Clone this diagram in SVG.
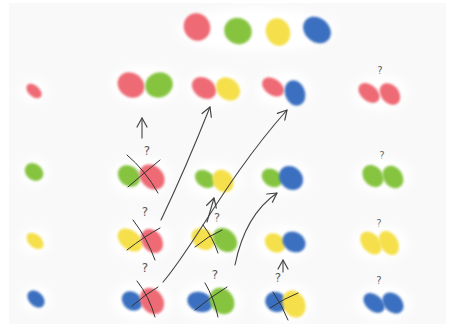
<svg xmlns="http://www.w3.org/2000/svg" width="453" height="331" viewBox="0 0 453 331">
<defs>
<filter id="soft" x="-30%" y="-30%" width="160%" height="160%"><feGaussianBlur stdDeviation="0.9"/></filter>
<filter id="halo" x="-50%" y="-50%" width="200%" height="200%"><feGaussianBlur stdDeviation="4"/></filter>
<marker id="ah" viewBox="0 0 12 12" refX="10" refY="6" markerWidth="12" markerHeight="12" markerUnits="userSpaceOnUse" orient="auto">
<path d="M1,1 L10,6 L1,11" fill="none" stroke="#444" stroke-width="1.2" stroke-linecap="round" stroke-linejoin="round"/>
</marker>
</defs>
<style>
.r{fill:#ee6a75}
.g{fill:#86c43f}
.y{fill:#f5e04b}
.b{fill:#3b6fc0}
.blob{filter:url(#soft)}
.h{fill:#ffffff;filter:url(#halo)}
.x{fill:none;stroke:#333;stroke-width:1;stroke-linecap:round}
.q{font-family:"DejaVu Sans",sans-serif;font-size:12px;fill:#555;text-anchor:middle}
.qs{font-family:"DejaVu Sans",sans-serif;font-size:10px;fill:#555;text-anchor:middle}
.c{fill:none;stroke:#444;stroke-width:1.1;stroke-linecap:round;marker-end:url(#ah)}
</style>
<rect width="453" height="331" fill="#ffffff"/>
<rect x="9" y="3" width="437" height="321" fill="#f9f9f9"/>

<g id="top">
<ellipse class="h" cx="257" cy="30" rx="80" ry="22"/>
<ellipse class="blob r" cx="197" cy="27" rx="13" ry="14" transform="rotate(-30 197 27)"/>
<ellipse class="blob g" cx="238" cy="31" rx="14" ry="13" transform="rotate(30 238 31)"/>
<ellipse class="blob y" cx="278" cy="32" rx="12" ry="14" transform="rotate(-20 278 32)"/>
<ellipse class="blob b" cx="317" cy="30" rx="15" ry="12" transform="rotate(40 317 30)"/>
</g>

<g id="left-red"><ellipse class="h" cx="34" cy="91" rx="14" ry="12"/><ellipse class="blob r" cx="34" cy="91" rx="9" ry="5.5" transform="rotate(42 34 91)"/></g>
<g id="left-green"><ellipse class="h" cx="34" cy="172" rx="15" ry="14"/><ellipse class="blob g" cx="34" cy="172" rx="10" ry="8" transform="rotate(40 34 172)"/></g>
<g id="left-yellow"><ellipse class="h" cx="35" cy="241" rx="15" ry="14"/><ellipse class="blob y" cx="35" cy="241" rx="10" ry="6.5" transform="rotate(42 35 241)"/></g>
<g id="left-blue"><ellipse class="h" cx="36" cy="299" rx="15" ry="14"/><ellipse class="blob b" cx="36" cy="299" rx="10" ry="7" transform="rotate(45 36 299)"/></g>

<g id="red-green"><ellipse class="h" cx="145" cy="85" rx="34" ry="20"/><ellipse class="blob r" cx="131" cy="85" rx="14" ry="12" transform="rotate(35 131 85)"/><ellipse class="blob g" cx="159" cy="85" rx="14" ry="12.5" transform="rotate(-20 159 85)"/></g>
<g id="red-yellow"><ellipse class="h" cx="216" cy="88" rx="30" ry="18"/><ellipse class="blob r" cx="204" cy="88" rx="13" ry="10" transform="rotate(35 204 88)"/><ellipse class="blob y" cx="228" cy="89" rx="13" ry="10.5" transform="rotate(40 228 89)"/></g>
<g id="red-blue"><ellipse class="h" cx="284" cy="90" rx="28" ry="18"/><ellipse class="blob r" cx="273" cy="87" rx="12" ry="8" transform="rotate(35 273 87)"/><ellipse class="blob b" cx="295" cy="93" rx="10" ry="13" transform="rotate(-20 295 93)"/></g>
<g id="right-red"><text class="qs" x="380" y="74">?</text><ellipse class="h" cx="380" cy="93" rx="28" ry="18"/><ellipse class="blob r" cx="369" cy="93" rx="12" ry="8" transform="rotate(40 369 93)"/><ellipse class="blob r" cx="390" cy="94" rx="12" ry="9" transform="rotate(50 390 94)"/></g>

<g id="green-red"><text class="q" x="147" y="155">?</text><ellipse class="h" cx="141" cy="177" rx="30" ry="20"/><ellipse class="blob g" cx="129" cy="176" rx="12" ry="10" transform="rotate(40 129 176)"/><ellipse class="blob r" cx="152" cy="177" rx="14" ry="11" transform="rotate(45 152 177)"/><path class="x" d="M127,155 Q145,170 158,193"/><path class="x" d="M128,187 Q145,172 160,160"/></g>
<g id="green-yellow"><ellipse class="h" cx="214" cy="180" rx="28" ry="18"/><ellipse class="blob g" cx="205" cy="179" rx="11" ry="8" transform="rotate(35 205 179)"/><ellipse class="blob y" cx="223" cy="181" rx="12" ry="10" transform="rotate(55 223 181)"/></g>
<g id="green-blue"><ellipse class="h" cx="282" cy="178" rx="28" ry="18"/><ellipse class="blob g" cx="272" cy="178" rx="11" ry="8.5" transform="rotate(35 272 178)"/><ellipse class="blob b" cx="291" cy="178" rx="13" ry="11" transform="rotate(45 291 178)"/></g>
<g id="right-green"><text class="qs" x="382" y="159">?</text><ellipse class="h" cx="383" cy="176" rx="28" ry="18"/><ellipse class="blob g" cx="373" cy="176" rx="12" ry="9.5" transform="rotate(50 373 176)"/><ellipse class="blob g" cx="393" cy="177" rx="12" ry="9.5" transform="rotate(55 393 177)"/></g>

<g id="yellow-red"><text class="q" x="145" y="216">?</text><ellipse class="h" cx="141" cy="240" rx="30" ry="20"/><ellipse class="blob y" cx="130" cy="240" rx="14" ry="9.5" transform="rotate(40 130 240)"/><ellipse class="blob r" cx="152" cy="241" rx="13" ry="10" transform="rotate(55 152 241)"/><path class="x" d="M133,220 Q147,238 155,260"/><path class="x" d="M127,250 Q145,236 160,228"/></g>
<g id="yellow-green"><text class="q" x="217" y="222">?</text><ellipse class="h" cx="214" cy="240" rx="30" ry="19"/><ellipse class="blob y" cx="203" cy="239" rx="12.5" ry="10" transform="rotate(40 203 239)"/><ellipse class="blob g" cx="225" cy="240" rx="13.5" ry="10.5" transform="rotate(45 225 240)"/><path class="x" d="M203,225 Q213,238 218,253"/><path class="x" d="M195,247 Q208,236 222,230"/></g>
<g id="yellow-blue"><ellipse class="h" cx="284" cy="243" rx="28" ry="18"/><ellipse class="blob y" cx="275" cy="243" rx="11" ry="9" transform="rotate(40 275 243)"/><ellipse class="blob b" cx="294" cy="242" rx="12" ry="10" transform="rotate(30 294 242)"/></g>
<g id="right-yellow"><text class="qs" x="379" y="227">?</text><ellipse class="h" cx="380" cy="243" rx="28" ry="18"/><ellipse class="blob y" cx="371" cy="243" rx="13" ry="9" transform="rotate(50 371 243)"/><ellipse class="blob y" cx="389" cy="243" rx="13" ry="9" transform="rotate(60 389 243)"/></g>

<g id="blue-red"><text class="q" x="145" y="272">?</text><ellipse class="h" cx="142" cy="301" rx="30" ry="20"/><ellipse class="blob b" cx="132" cy="301" rx="11" ry="9" transform="rotate(40 132 301)"/><ellipse class="blob r" cx="152" cy="301" rx="14" ry="11" transform="rotate(55 152 301)"/><path class="x" d="M137,281 Q149,296 155,317"/><path class="x" d="M132,306 Q146,294 158,287"/></g>
<g id="blue-green"><text class="q" x="215" y="279">?</text><ellipse class="h" cx="211" cy="301" rx="32" ry="20"/><ellipse class="blob b" cx="200" cy="302" rx="13" ry="10" transform="rotate(20 200 302)"/><ellipse class="blob g" cx="222" cy="301" rx="14" ry="11.5" transform="rotate(55 222 301)"/><path class="x" d="M205,283 Q214,298 218,317"/><path class="x" d="M195,310 Q212,296 227,287"/></g>
<g id="blue-yellow"><text class="q" x="278" y="282">?</text><ellipse class="h" cx="285" cy="303" rx="28" ry="20"/><ellipse class="blob b" cx="276" cy="302" rx="11" ry="10" transform="rotate(30 276 302)"/><ellipse class="blob y" cx="294" cy="304" rx="11" ry="14" transform="rotate(-25 294 304)"/><path class="x" d="M273,292 Q282,305 288,320"/><path class="x" d="M270,308 Q285,298 298,293"/></g>
<g id="right-blue"><text class="qs" x="379" y="284">?</text><ellipse class="h" cx="383" cy="303" rx="28" ry="18"/><ellipse class="blob b" cx="374" cy="303" rx="12" ry="8" transform="rotate(40 374 303)"/><ellipse class="blob b" cx="393" cy="303" rx="12" ry="9" transform="rotate(45 393 303)"/></g>

<g id="connectors">
<path class="c" d="M142,138 L142,118"/>
<path class="c" d="M161,220 Q185,170 210,107"/>
<path class="c" d="M163,282 C195,245 225,180 287,110"/>
<path class="c" d="M207,222 L214,198"/>
<path class="c" d="M235,265 Q245,215 277,193"/>
<path class="c" d="M283,272 L283,260"/>
</g>
</svg>
